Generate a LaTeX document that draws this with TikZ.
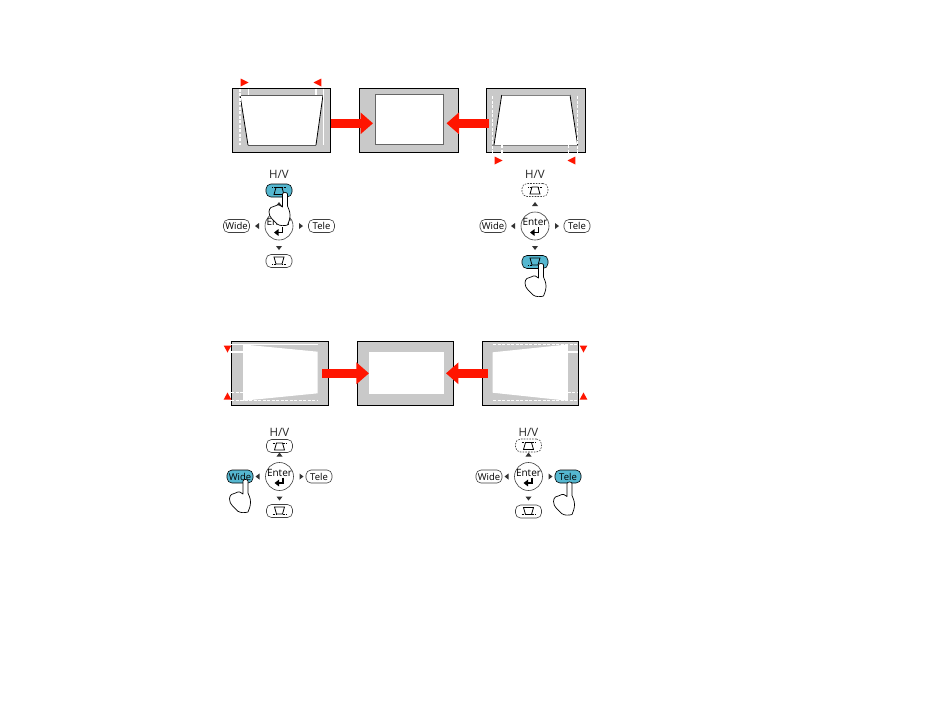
\documentclass[tikz,border=0pt]{standalone}
\usepackage{fontspec}
\setmainfont{Open Sans}
\usetikzlibrary{positioning,arrows.meta}

\definecolor{screengray}{HTML}{C9C9C9}
\definecolor{arrowred}{HTML}{FF1500}
\definecolor{keyblue}{HTML}{55B7D0}

\tikzset{
  screen/.style={draw=black,line width=.8pt,fill=screengray,minimum height=64pt,inner sep=0pt,outer sep=0pt},
  bigarrow/.style={draw=arrowred,line width=9.5pt,-{Triangle[length=12.5pt,width=21pt]}},
  whiteline/.style={draw=white,line width=1.2pt},
  whitedash/.style={draw=white,line width=1.3pt,dash pattern=on 3pt off 1.5pt},
  plainkey/.style={draw=black!75,line width=.6pt,rounded corners=5pt,fill=white,minimum width=26pt,minimum height=13pt,inner sep=0pt,font=\fontsize{9.5}{9.5}\selectfont},
  litkey/.style={plainkey,draw=black,fill=keyblue},
  dashkey/.style={plainkey,dashed,dash pattern=on 1.6pt off 1.2pt},
  topkey/.style={plainkey},
  botkey/.style={plainkey},
  widekey/.style={plainkey},
  telekey/.style={plainkey},
  marker/.style={fill=arrowred},
  tinytri/.style={fill=black!80}
}

% one set of keys round the Enter button: #2 wide/tele, #3 top, #4 bottom, #5 H/V
\newcommand{\keypad}[5]{
  \node[circle,draw=black!75,line width=.6pt,fill=white,minimum size=28pt,inner sep=0pt] (#1enter) at (0,0) {};
  \node[font=\fontsize{10}{10}\selectfont] (#1text) at (0,-4) {Enter};
  \draw[line width=1.6pt,-{Triangle[length=4.5pt,width=6.5pt]}] (3.5,1) -- (3.5,6.5) -- (-5,6.5);
  \node[topkey] (#1top) at (0,#3) {};
  \node[botkey] (#1bot) at (0,#4) {};
  \node[widekey] (#1wide) at (-#2,0) {Wide};
  \node[telekey] (#1tele) at (#2,0) {Tele};
  \node[font=\fontsize{11.5}{11.5}\selectfont,text=black!85] (#1hv) at (0,#5) {H/V};
  \fill[tinytri] (-3,-20) -- (3,-20) -- (0,-24) -- cycle;
  \fill[tinytri] (-3,20) -- (3,20) -- (0,24) -- cycle;
  \fill[tinytri] (-20,-3) -- (-20,3) -- (-24,0) -- cycle;
  \fill[tinytri] (20,-3) -- (20,3) -- (24,0) -- cycle;
  % little keystone signs on the top and bottom keys
  \draw[line width=.8pt] ([xshift=-3pt,yshift=3pt]#1top.center) -- ([xshift=3pt,yshift=3pt]#1top.center) -- ([xshift=5pt,yshift=-4pt]#1top.center) -- ([xshift=-5pt,yshift=-4pt]#1top.center) -- cycle;
  \draw[line width=.7pt,densely dotted] ([xshift=-7pt,yshift=3pt]#1top.center) -- ([xshift=-3pt,yshift=3pt]#1top.center) ([xshift=3pt,yshift=3pt]#1top.center) -- ([xshift=7pt,yshift=3pt]#1top.center);
  \draw[line width=.8pt] ([xshift=-5pt,yshift=4pt]#1bot.center) -- ([xshift=5pt,yshift=4pt]#1bot.center) -- ([xshift=3pt,yshift=-3pt]#1bot.center) -- ([xshift=-3pt,yshift=-3pt]#1bot.center) -- cycle;
  \draw[line width=.7pt,densely dotted] ([xshift=-7pt,yshift=-3pt]#1bot.center) -- ([xshift=-3pt,yshift=-3pt]#1bot.center) ([xshift=3pt,yshift=-3pt]#1bot.center) -- ([xshift=7pt,yshift=-3pt]#1bot.center);
}

% pointing hand, (#1,#2) is the tip of the finger
\newcommand{\hand}[2]{
  \draw[shift={(#1,#2)},line width=.7pt,fill=white,line join=round]
    (-2.5,1) .. controls (-2.5,-1) and (2.5,-1) .. (2.5,1) -- (2.5,13)
    .. controls (3.5,16) and (5,18) .. (5,22)
    .. controls (5,26) and (4,28) .. (2.5,32)
    .. controls (-1,33) and (-5,33) .. (-8,31)
    .. controls (-11,27) and (-16,25) .. (-16,19)
    .. controls (-16,15) and (-13,13) .. (-10,13)
    .. controls (-7,11) and (-4,12) .. (-2.5,14) -- cycle;
}

\begin{document}
\begin{tikzpicture}[x=1pt,y=-1pt]
\path[fill=white,use as bounding box] (0,0) rectangle (950,716);

% upper row of screens
\node[screen,minimum width=98pt] (upleft) at (281.5,120.3) {};
\node[screen,minimum width=99pt] (upmid) [right=29pt of upleft] {};
\node[screen,minimum width=99pt] (upright) [right=28pt of upmid] {};

\draw[fill=white,draw=none] (240,95) -- (323,95) -- (316,145) -- (248,145) -- cycle;
\draw[black,line width=.8pt] (240,95) -- (248,145) (323,95) -- (316,145);
\draw[black!65,line width=.8pt] (240,95) -- (323,95) (248,145) -- (316,145);
\draw[whitedash] (240,88.5) -- (240,145);
\draw[whiteline] (323.7,88.5) -- (323.7,145);
\draw[whiteline] (248.5,88.5) -- (248.5,95) (316,88.5) -- (316,95);
\fill[marker] (240.7,78.5) -- (248.5,82.5) -- (240.7,86.5) -- cycle;
\fill[marker] (321.3,78.5) -- (313.5,82.5) -- (321.3,86.5) -- cycle;

\draw[fill=white,draw=black!60,line width=.8pt] (375,94.5) rectangle (443.3,144.7);

\draw[fill=white,draw=none] (501.7,95) -- (570,95) -- (577.7,145) -- (494,145) -- cycle;
\draw[black,line width=.8pt] (501.7,95) -- (494,145) (570,95) -- (577.7,145);
\draw[black!50,line width=.8pt] (501.7,95) -- (570,95) (492,145) -- (578,145);
\draw[whitedash] (492.7,96) -- (492.7,163) (577.7,96) -- (577.7,163);
\draw[whitedash] (502,145) -- (502,163) (568.7,145) -- (568.7,163);
\fill[marker] (494.7,156.5) -- (502.5,160.5) -- (494.7,164.5) -- cycle;
\fill[marker] (575.3,156.5) -- (567.5,160.5) -- (575.3,164.5) -- cycle;

\draw[bigarrow,shorten >=-13.5pt] ([yshift=-3pt]upleft.east) -- ([yshift=-3pt]upmid.west);
\draw[bigarrow,shorten <=-2pt,shorten >=-12pt] ([yshift=-3pt]upright.west) -- ([yshift=-3pt]upmid.east);

% upper row of keys
\begin{scope}[shift={(279,226)},topkey/.style={litkey}]
\keypad{ua}{42.5}{-35.5}{35}{-52}
\hand{6}{-33}
\end{scope}
\begin{scope}[shift={(535,226)},topkey/.style={dashkey},botkey/.style={litkey}]
\keypad{ub}{42}{-36}{36}{-52}
\hand{6}{38}
\end{scope}

% lower row of screens
\node[screen,minimum width=97.5pt] (lowleft) at (279.7,373.3) {};
\node[screen,minimum width=96pt] (lowmid) [right=29pt of lowleft] {};
\node[screen,minimum width=96pt] (lowright) [right=29pt of lowmid] {};

\fill[white] (243.3,344.5) -- (317.7,351.7) -- (317.7,393.3) -- (243.3,400.7) -- cycle;
\draw[whiteline] (231,344.5) -- (317.7,344.5) (231,352) -- (243.3,352) (243.3,344.5) -- (243.3,400.7);
\draw[whitedash] (231,392.3) -- (243.3,392.3) (231,400.7) -- (317.7,400.7);
\fill[marker] (223.7,345.5) -- (231.3,345.5) -- (227.5,352.5) -- cycle;
\fill[marker] (223.7,399.5) -- (231.3,399.5) -- (227.5,392.5) -- cycle;

\fill[white] (369,351.7) rectangle (443.7,393.7);

\fill[white] (492.7,352.3) -- (567.7,344.5) -- (567.7,400.7) -- (492.7,392.7) -- cycle;
\draw[whiteline] (567.7,344.5) -- (567.7,400.7) (567.7,352) -- (578,352);
\draw[whitedash] (493,344.4) -- (578,344.4) (567.7,392.3) -- (578,392.3) (493,400.4) -- (578,400.4);
\fill[marker] (579.7,345.5) -- (587.3,345.5) -- (583.5,352.5) -- cycle;
\fill[marker] (579.7,399.5) -- (587.3,399.5) -- (583.5,392.5) -- cycle;

\draw[bigarrow,shorten <=-6pt,shorten >=-11.5pt] (lowleft.east) -- (lowmid.west);
\draw[bigarrow,shorten <=-5.5pt,shorten >=-7.5pt] (lowright.west) -- (lowmid.east);

% lower row of keys
\begin{scope}[shift={(279.5,476.5)},widekey/.style={litkey}]
\keypad{la}{39.5}{-30.5}{34.5}{-44.5}
\hand{-34}{3.5}
\end{scope}
\begin{scope}[shift={(528.5,476.5)},topkey/.style={dashkey},telekey/.style={litkey}]
\keypad{lb}{39.5}{-31}{35}{-44.5}
\hand{41}{6}
\end{scope}

\end{tikzpicture}
\end{document}
